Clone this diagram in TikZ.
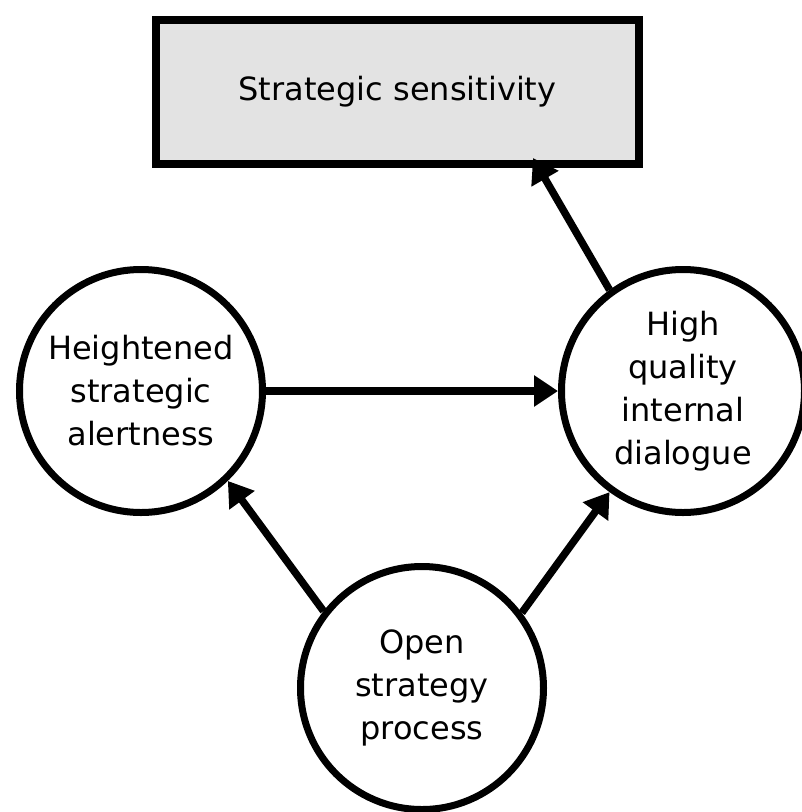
\documentclass[tikz,border=0pt]{standalone}
\usepackage{fontspec}
\setmainfont{DejaVu Sans}
\usetikzlibrary{arrows.meta}
\definecolor{boxgray}{HTML}{E3E3E3}
\begin{document}
\begin{tikzpicture}[x=1pt,y=-1pt,
  every node/.style={font=\fontsize{32}{43}\selectfont},
  circ/.style={circle,draw=black,line width=7pt,fill=white,minimum size=243pt,inner sep=0pt,align=center},
  box/.style={rectangle,draw=black,line width=8pt,fill=boxgray,minimum width=483pt,minimum height=144pt,inner sep=0pt},
  arr/.style={line width=7.5pt,-{Triangle[length=24pt,width=30pt]}}]
\useasboundingbox (0,0) rectangle (802,812);
\node[box] (ss) at (397.5,92) {Strategic sensitivity};
\node[circ] (hsa) at (141,391) {Heightened\\strategic\\alertness};
\node[circ] (hqd) at (683,391) {High\\quality\\internal\\dialogue};
\node[circ] (osp) at (422,688) {Open\\strategy\\process};
\coordinate (ssend) at ([xshift=135.5pt,yshift=10pt]ss.south);
\draw[arr] (hsa.east) -- (hqd.west);
\draw[arr] (hqd.126) -- (ssend);
\draw[arr] (osp.142) -- (hsa.-46);
\draw[arr] (osp.37) -- (hqd.234);
\end{tikzpicture}
\end{document}
